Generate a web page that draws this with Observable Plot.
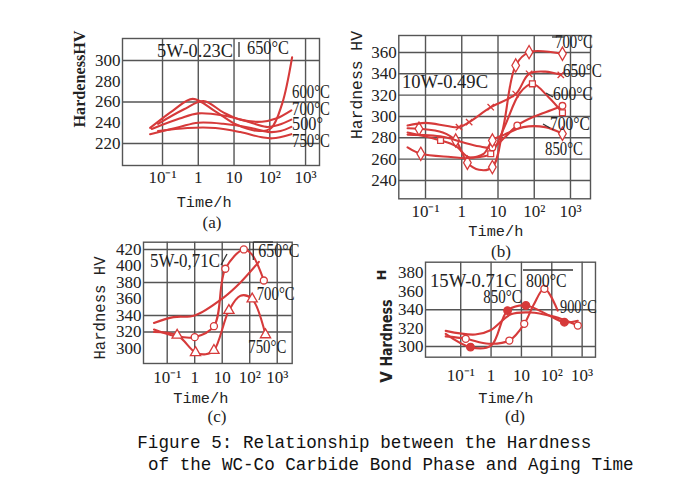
<!DOCTYPE html>
<html><head><meta charset="utf-8">
<script src="https://cdn.jsdelivr.net/npm/d3@7"></script>
<script src="https://cdn.jsdelivr.net/npm/@observablehq/plot@0.6"></script>
<style>
html,body{margin:0;padding:0;background:#fff;}
#wrap{position:relative;width:690px;height:491px;overflow:hidden;background:#fff;}
.panel{position:absolute;}
#ann{position:absolute;left:0;top:0;pointer-events:none;}
</style></head><body><div id="wrap"></div>
<script>
// ---------- data ----------
const xTicks = [0.1, 1, 10, 100, 1000];
const xTickLabels = ["10⁻¹", "1", "10", "10²", "10³"];

// (a) 5W-0.23C : [time h, HV]
const a650 = [[0.045,235],[0.2,252],[0.7,263],[3,251],[12,238],[50,232],[110,235],[220,258],[420,303]];
const a600 = [[0.075,239],[0.4,253],[1.4,261],[5,250],[15,243],[60,241],[150,244],[400,252]];
const a700 = [[0.05,234],[0.3,244],[1,249],[5,247],[20,242],[80,236],[180,238],[400,243]];
const a500 = [[0.045,229],[0.3,236],[1,240],[5,239],[30,235],[100,231],[200,232],[400,236]];
const a750 = [[0.075,232],[0.5,235],[3,235],[15,231],[60,226],[120,225],[400,229]];
const aYTicks = [220, 240, 260, 280, 300];
const aYGrid = [220, 260, 300];

// (b) 10W-0.49C : [time h, HV, marker]
const b700a = [[0.032,289],[0.066,288.5,1],[0.3,285],[0.68,277.5,1],[1.43,256.6,1],[3,250],[7,252.5,1],[14,290],[30.8,347.8,1],[72,360.3,1],[600,358.8,1]];
const b650 = [[0.032,291.6],[0.1,294],[0.4,291],[0.84,290,1],[1.6,294.7,1],[6.3,308.7,1],[30.8,321,1],[72,340,1],[200,342],[540,339,1]];
const b600 = [[0.032,285],[0.26,277.5,1],[0.7,272],[1.5,262],[3,262],[6.3,265,1],[15,290],[40,322],[89,330.6,1],[250,318],[600,303.5,1]];
const b700b = [[0.032,283],[0.3,281],[1,276],[3,272],[7,271,1],[15,280],[34,291.6,1],[100,300],[300,306],[600,310,1]];
const b850 = [[0.032,271],[0.074,265,1],[0.5,262],[1.5,261],[4,265],[7,277.5,1],[15,283],[50,290],[200,290],[600,283.8,1]];
const bYTicks = [240, 260, 280, 300, 320, 340, 360];
const bYGrid = [240, 260, 280, 300, 320, 340, 360];

// (c) 5W-0.71C
const c650 = [[0.033,331],[0.17,338],[1,340],[11.5,362],[46,380],[215,405]];
const c700 = [[0.033,323],[0.2,315],[1,313.7,1],[5,327,1],[13,396.6,1],[61,420,1],[120,414],[326,382.4,1]];
const c750 = [[0.033,320],[0.23,316,1],[1.07,295,1],[2.5,293],[5,297.6,1],[17.5,346,1],[46,364],[123,360,1],[375,316.6,1]];
const cYTicks = [300, 320, 340, 360, 380, 400, 420];
const cYGrid = [320, 340, 380, 420];

// (d) 15W-0.71C
const d850 = [[0.032,313.8],[0.21,299.3,1],[1,301],[3.5,339,1],[14,344.6,1],[60,336],[260,326.4,1],[720,328]];
const d800 = [[0.032,311],[0.146,308.4,1],[0.84,303],[4,306.5,1],[12.4,324.6,1],[25,345],[57,362.7,1],[157,339]];
const d900 = [[0.032,317],[0.3,313],[1,318],[4.5,335],[20,337],[100,333],[300,328],[720,322.8,1]];
const dYTicks = [300, 320, 340, 360, 380];
const dYGrid = [300, 340];

// ---------- drawing ----------
const RED = "#d63a3a";
const GRID = "#555";
const wrap = document.getElementById("wrap");

function panel(cfg) {
  const {series, xDom, yDom, yTicks, yGrid, left, top, frame, padX} = cfg;
  const mL = frame[0] - left, mT = frame[2] - top, mR = 14, mB = 34;
  const width = frame[1] - left + mR, height = frame[3] - top + mB;
  const fmt = d => xTickLabels[xTicks.indexOf(d)];
  const marks = [
    Plot.gridX(xTicks, {stroke: GRID, strokeOpacity: 1, strokeWidth: 1.4}),
    Plot.gridY(yGrid, {stroke: GRID, strokeOpacity: 1, strokeWidth: 1.4}),
    Plot.frame({stroke: GRID, strokeWidth: 1.4}),
    Plot.axisX(xTicks, {tickSize: 0, tickPadding: padX, tickFormat: fmt, label: null}),
    Plot.axisY(yTicks, {tickSize: 0, tickPadding: 2, label: null})
  ];
  for (const s of series) {
    marks.push(Plot.line(s.pts, {x: d => d[0], y: d => d[1], curve: "catmull-rom", stroke: RED, strokeWidth: 2.1}));
    if (s.sym) marks.push(Plot.dot(s.pts.filter(d => d[2]), {
      x: d => d[0], y: d => d[1], symbol: s.sym, r: s.r || 3.5,
      stroke: RED, fill: s.fill || "white", strokeWidth: 1.3
    }));
  }
  const svg = Plot.plot({
    width, height, marginLeft: mL, marginTop: mT, marginRight: mR, marginBottom: mB,
    x: {type: "log", domain: xDom},
    y: {domain: yDom},
    style: {fontFamily: "Liberation Serif", fontSize: "17px", color: "#222", background: "transparent", overflow: "visible"},
    marks
  });
  const div = document.createElement("div");
  div.className = "panel";
  div.style.left = left + "px";
  div.style.top = top + "px";
  div.style.width = width + "px";
  div.appendChild(svg);
  wrap.appendChild(div);
}

panel({
  series: [{pts: a650}, {pts: a600}, {pts: a700}, {pts: a500}, {pts: a750}],
  xDom: [10 ** -2.119, 10 ** 3.39], yDom: [198.8, 321.2],
  yTicks: aYTicks, yGrid: aYGrid, left: 60, top: 20, frame: [122, 319, 38, 165], padX: 5
});
panel({
  series: [
    {pts: b700a, sym: "diamond", r: 4},
    {pts: b650, sym: "times", r: 3},
    {pts: b600, sym: "square", r: 3.3},
    {pts: b700b, sym: "circle", r: 3.3},
    {pts: b850, sym: "diamond", r: 4}
  ],
  xDom: [10 ** -1.737, 10 ** 3.552], yDom: [222.8, 375.9],
  yTicks: bYTicks, yGrid: bYGrid, left: 340, top: 20, frame: [398.3, 590, 35, 198.3], padX: 6
});
panel({
  series: [
    {pts: c650},
    {pts: c700, sym: "circle", r: 3.5},
    {pts: c750, sym: "triangle", r: 3.8}
  ],
  xDom: [10 ** -1.862, 10 ** 3.544], yDom: [281.8, 428.8],
  yTicks: cYTicks, yGrid: cYGrid, left: 80, top: 230, frame: [143, 291.7, 241.7, 363], padX: 7
});
panel({
  series: [
    {pts: d850, sym: "circle", r: 3.8, fill: RED},
    {pts: d800, sym: "circle", r: 3.5},
    {pts: d900, sym: "circle", r: 3.5}
  ],
  xDom: [10 ** -2.16, 10 ** 3.44], yDom: [288.4, 391.6],
  yTicks: dYTicks, yGrid: dYGrid, left: 360, top: 250, frame: [425, 595, 261.7, 356.7], padX: 12
});

// ---------- annotations ----------
const NS = "http://www.w3.org/2000/svg";
const ann = document.createElementNS(NS, "svg");
ann.setAttribute("id", "ann");
ann.setAttribute("width", 690);
ann.setAttribute("height", 491);
wrap.appendChild(ann);

function txt(s, x, y, o = {}) {
  const t = document.createElementNS(NS, "text");
  t.textContent = s;
  t.setAttribute("x", x);
  t.setAttribute("y", y);
  t.setAttribute("font-family", o.font || "Liberation Serif");
  t.setAttribute("font-size", o.size || 19);
  t.setAttribute("fill", o.fill || "#222");
  if (o.weight) t.setAttribute("font-weight", o.weight);
  if (o.anchor) t.setAttribute("text-anchor", o.anchor);
  if (o.len) { t.setAttribute("textLength", o.len); t.setAttribute("lengthAdjust", "spacingAndGlyphs"); }
  if (o.rot) t.setAttribute("transform", `rotate(${o.rot},${x},${y})`);
  ann.appendChild(t);
}
function ln(x1, y1, x2, y2) {
  const l = document.createElementNS(NS, "line");
  l.setAttribute("x1", x1); l.setAttribute("y1", y1);
  l.setAttribute("x2", x2); l.setAttribute("y2", y2);
  l.setAttribute("stroke", "#333"); l.setAttribute("stroke-width", 1.3);
  ann.appendChild(l);
}

// (a)
txt("5W-0.23C", 157, 56.5, {size: 18.5, len: 76});
ln(239, 42, 239, 57);
txt("650°C", 247, 53.5, {len: 42});
txt("600°C", 292, 98, {len: 38});
txt("700°C", 292, 114.5, {len: 38});
txt("500°", 292, 130, {len: 31});
txt("750°C", 292, 146.5, {len: 38});
// (b)
txt("10W-0.49C", 402, 88, {size: 19, len: 86});
ln(552, 37, 564, 37);
txt("700°C", 555, 48.3, {len: 38});
txt("650°C", 563, 76.5, {len: 39});
txt("600°C", 553, 100, {len: 40});
ln(546, 93, 553, 97);
txt("700°C", 550, 130, {len: 40});
ln(543, 124, 550, 128);
txt("850°C", 545, 155, {len: 38});
// (c)
txt("5W-0,71C", 150, 266.5, {size: 18.5, len: 70});
ln(221, 265, 227, 254);
ln(253.3, 242, 253.3, 260);
ln(253.3, 242, 273, 242);
txt("650°C", 258.3, 256.5, {len: 41});
txt("700°C", 256.7, 300, {len: 38});
txt("750°C", 248.3, 353, {len: 38});
// (d)
txt("15W-0.71C", 430, 286.5, {size: 18.5, len: 86.7});
ln(523, 270, 573, 270);
txt("800°C", 526, 286.5, {len: 40.7});
txt("850°C", 483.3, 303, {len: 38.4});
txt("900°C", 560, 313, {len: 36.7});

// panel letters
txt("(a)", 212, 228, {anchor: "middle", size: 17});
txt("(b)", 501, 257, {anchor: "middle", size: 17});
txt("(c)", 217, 422, {anchor: "middle", size: 17});
txt("(d)", 515, 422, {anchor: "middle", size: 17});

// x titles
const mono = "Liberation Mono";
txt("Time/h", 176.7, 206.5, {font: mono, size: 15.3, len: 55});
txt("Time/h", 468.3, 236, {font: mono, size: 15.3, len: 55});
txt("Time/h", 173.3, 403, {font: mono, size: 15.3, len: 55});
txt("Time/h", 478.3, 403, {font: mono, size: 15.3, len: 55});

// y titles
txt("HardenessHV", 85, 79, {anchor: "middle", rot: -90, weight: "bold", size: 16, len: 97});
txt("Hardness HV", 362, 85, {anchor: "middle", rot: -90, font: mono, size: 16, len: 108});
txt("Hardness HV", 105, 308, {anchor: "middle", rot: -90, font: mono, size: 16, len: 103});
txt("Hardness", 392, 333, {anchor: "middle", rot: -90, font: "DejaVu Sans", weight: "bold", size: 15, len: 67});
txt("H", 386, 275, {anchor: "middle", rot: -90, font: "DejaVu Sans", weight: "bold", size: 13});
txt("V", 392, 377, {anchor: "middle", rot: -90, font: "DejaVu Sans", weight: "bold", size: 15});

// caption
txt("Figure 5: Relationship between the Hardness", 137.3, 448.3, {font: mono, size: 17.6, fill: "#111"});
txt("of the WC-Co Carbide Bond Phase and Aging Time", 148, 470, {font: mono, size: 17.6, fill: "#111"});
</script></body></html>
